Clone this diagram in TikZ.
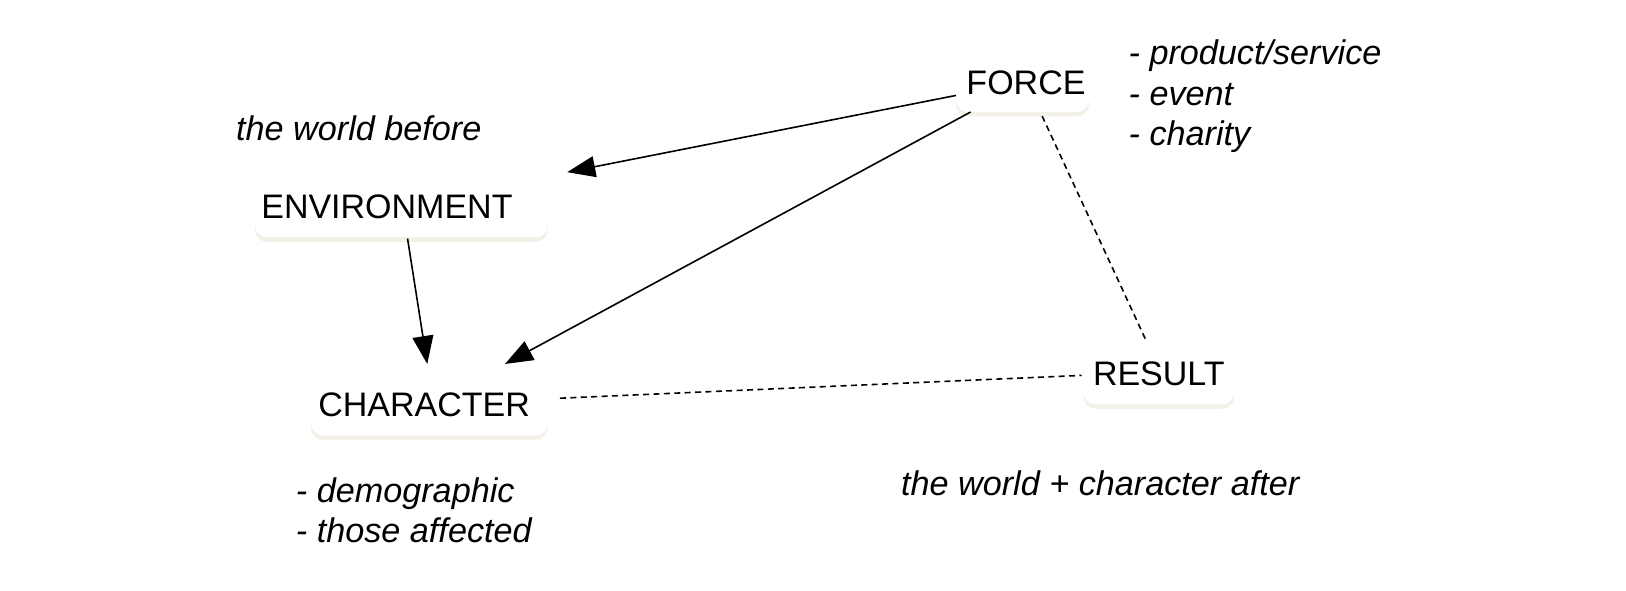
\documentclass[tikz,border=0pt]{standalone}
\usepackage{fontspec}
\setmainfont{Liberation Sans}
\usetikzlibrary{arrows.meta,calc,shadows}
\definecolor{shadowc}{RGB}{243,240,232}
\newlength\pxu
\setlength\pxu{0.5185pt}
\tikzset{
  box/.style={fill=white, rounded corners=6pt, inner ysep=0pt, align=left,
    font=\fontsize{17}{20}\selectfont,
    drop shadow={shadow xshift=0pt, shadow yshift=-2.2pt, fill=shadowc, opacity=1}},
  note/.style={font=\fontsize{17.1}{20.2}\selectfont\itshape, inner sep=0pt, align=left},
  arr/.style={line width=0.8pt, -{Triangle[length=14pt,width=10.5pt]}},
  dashline/.style={line width=0.8pt, dash pattern=on 3pt off 2.2pt}
}
\begin{document}
\begin{tikzpicture}[x=0.5185pt,y=-0.5185pt]
\useasboundingbox (0,0) rectangle (1568,569);
\fill[white] (0,0) rectangle (1568,569);

\node[box, inner xsep=10\pxu, text width=108\pxu, minimum height=56\pxu] (force) at (986,80) {FORCE};
\node[box, inner xsep=6\pxu, text width=270\pxu, minimum height=60\pxu] (env) at (387,199) {ENVIRONMENT};
\node[box, inner xsep=7\pxu, text width=214\pxu, minimum height=60\pxu] (char) at (414,390) {CHARACTER};
\node[box, inner xsep=9\pxu, text width=127\pxu, minimum height=60\pxu] (result) at (1117.5,360) {RESULT};

\node[note] (before) at (346,124) {the world before};
\node[note] (after) at (1061,466) {the world + character after};
\node[note, anchor=west] (forcelist) at (1088,93) {- product/service\\- event\\- charity};
\node[note, anchor=west] (charlist) at (285,492) {- demographic\\- those affected};

\draw[arr] ($(force.center)+(-64,12)$) -- ($(env.center)+(160,-33)$);
\draw[arr] ($(force.center)+(-50,28)$) -- ($(char.center)+(73,-39)$);
\draw[arr] ($(env.center)+(6,31)$) -- ($(char.center)+(-2,-39)$);
\draw[dashline] ($(force.center)+(19,32)$) -- ($(result.center)+(-12.5,-32)$);
\draw[dashline] ($(char.center)+(126,-6)$) -- ($(result.center)+(-74.5,2)$);
\end{tikzpicture}
\end{document}
